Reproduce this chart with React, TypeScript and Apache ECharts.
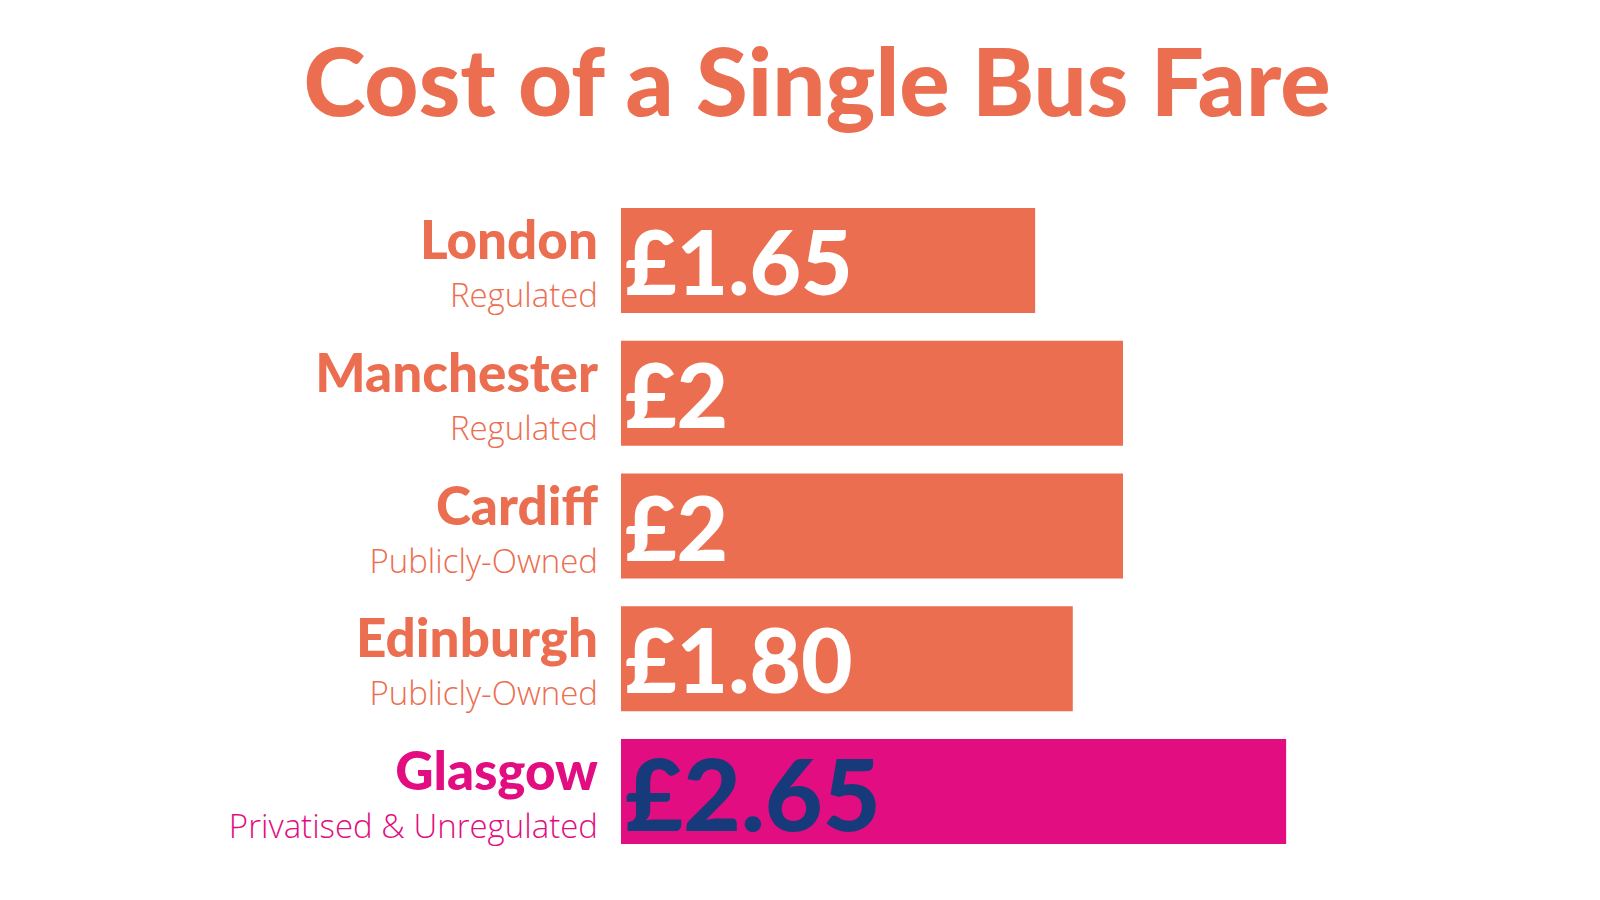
import React, { useEffect, useRef } from "react";
import * as echarts from "echarts";

const cities = ["London", "Manchester", "Cardiff", "Edinburgh", "Glasgow"];
const governance = ["Regulated", "Regulated", "Publicly-Owned", "Publicly-Owned", "Privatised & Unregulated"];
const fares = [1.65, 2, 2, 1.8, 2.65];
const fareLabels = ["£1.65", "£2", "£2", "£1.80", "£2.65"];
const highlight = [false, false, false, false, true];

const ORANGE = "#EC6E51";
const PINK = "#E20D80";
const NAVY = "#173A7B";

export default function App() {
  const ref = useRef<HTMLDivElement>(null);
  useEffect(() => {
    if (!ref.current) return;
    const chart = echarts.init(ref.current, undefined, { renderer: "svg" });
    chart.setOption({
      animation: false,
      backgroundColor: "#ffffff",
      title: {
        text: "Cost of a Single Bus Fare",
        left: 812,
        textAlign: "center",
        top: 27,
        textStyle: {
          fontFamily: "Lato",
          fontWeight: 900,
          fontSize: 94,
          color: ORANGE,
        },
      },
      grid: { left: 621, right: 226, top: 194, bottom: 42, containLabel: false },
      xAxis: {
        type: "value",
        min: 0,
        max: 3,
        show: false,
      },
      yAxis: {
        type: "category",
        data: cities,
        inverse: true,
        axisLine: { show: false },
        axisTick: { show: false },
        splitLine: { show: false },
        axisLabel: {
          align: "right",
          margin: 23,
          formatter: (v: string, i: number) => {
            const hl = highlight[i];
            return `{${hl ? "nameHl" : "name"}|${v}}\n{${hl ? "subHl" : "sub"}|${governance[i]}}`;
          },
          rich: {
            name: { fontFamily: "Lato", fontWeight: 900, fontSize: 53, color: ORANGE, lineHeight: 68, align: "right" },
            nameHl: { fontFamily: "Lato", fontWeight: 900, fontSize: 53, color: PINK, lineHeight: 68, align: "right" },
            sub: { fontFamily: "Open Sans", fontWeight: 300, fontSize: 33, color: ORANGE, lineHeight: 44, align: "right" },
            subHl: { fontFamily: "Open Sans", fontWeight: 300, fontSize: 33, color: PINK, lineHeight: 44, align: "right" },
          },
        },
      },
      series: [
        {
          type: "bar",
          barWidth: 105,
          data: fares.map((v, i) => ({
            value: v,
            itemStyle: { color: highlight[i] ? PINK : ORANGE },
            label: {
              show: true,
              position: "insideLeft",
              distance: 4,
              formatter: () => fareLabels[i],
              color: highlight[i] ? NAVY : "#ffffff",
              fontFamily: "Lato",
              fontWeight: 900,
              fontSize: highlight[i] ? 100 : 89,
            },
          })),
        },
      ],
    });
    return () => chart.dispose();
  }, []);
  return <div ref={ref} style={{ width: 1600, height: 900, margin: -8 }} />;
}
